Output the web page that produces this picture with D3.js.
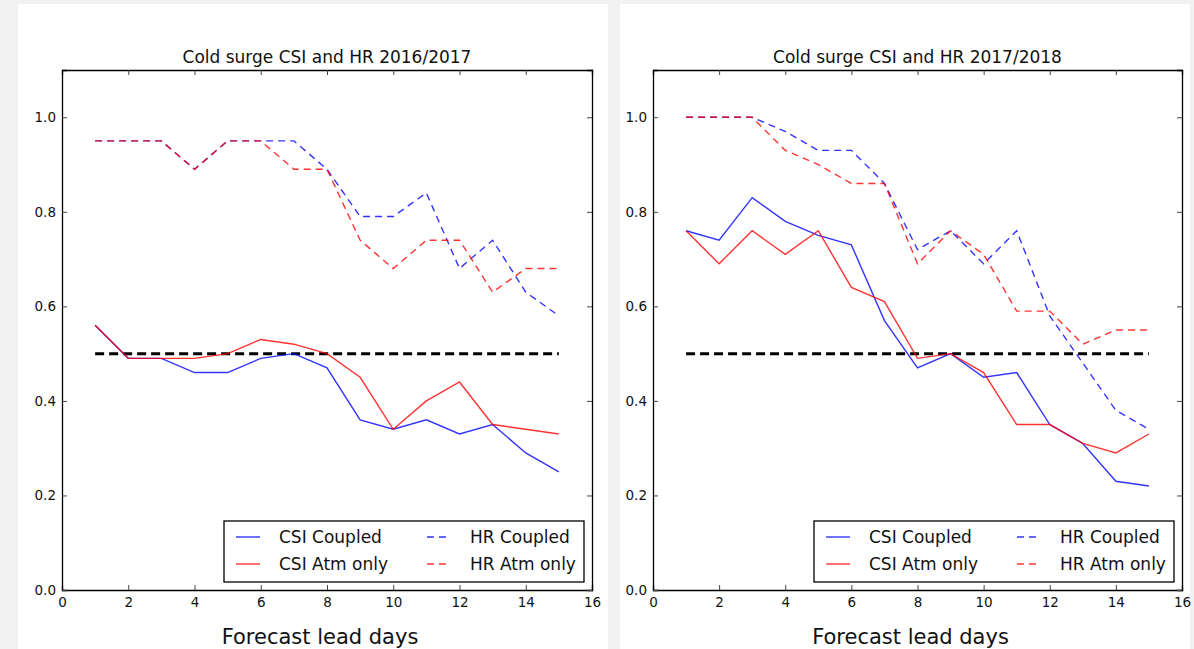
<!DOCTYPE html>
<html>
<head>
<meta charset="utf-8">
<script src="https://cdn.jsdelivr.net/npm/d3@7"></script>
<style>
  body { margin: 0; background: #f2f2f2; }
  svg { display: block; }
  text { font-family: "DejaVu Sans", sans-serif; fill: #111; }
</style>
</head>
<body>
<script>
var days = [1, 2, 3, 4, 5, 6, 7, 8, 9, 10, 11, 12, 13, 14, 15];

// 2016/2017 season
var csiCoupled1617 = [0.56, 0.49, 0.49, 0.46, 0.46, 0.49, 0.50, 0.47, 0.36, 0.34, 0.36, 0.33, 0.35, 0.29, 0.25];
var csiAtm1617     = [0.56, 0.49, 0.49, 0.49, 0.50, 0.53, 0.52, 0.50, 0.45, 0.34, 0.40, 0.44, 0.35, 0.34, 0.33];
var hrCoupled1617  = [0.95, 0.95, 0.95, 0.89, 0.95, 0.95, 0.95, 0.89, 0.79, 0.79, 0.84, 0.68, 0.74, 0.63, 0.58];
var hrAtm1617      = [0.95, 0.95, 0.95, 0.89, 0.95, 0.95, 0.89, 0.89, 0.74, 0.68, 0.74, 0.74, 0.63, 0.68, 0.68];

// 2017/2018 season
var csiCoupled1718 = [0.76, 0.74, 0.83, 0.78, 0.75, 0.73, 0.57, 0.47, 0.50, 0.45, 0.46, 0.35, 0.31, 0.23, 0.22];
var csiAtm1718     = [0.76, 0.69, 0.76, 0.71, 0.76, 0.64, 0.61, 0.49, 0.50, 0.46, 0.35, 0.35, 0.31, 0.29, 0.33];
var hrCoupled1718  = [1.00, 1.00, 1.00, 0.97, 0.93, 0.93, 0.86, 0.72, 0.76, 0.69, 0.76, 0.58, 0.48, 0.38, 0.34];
var hrAtm1718      = [1.00, 1.00, 1.00, 0.93, 0.90, 0.86, 0.86, 0.69, 0.76, 0.71, 0.59, 0.59, 0.52, 0.55, 0.55];

var threshold = 0.5;
var xTicks = [0, 2, 4, 6, 8, 10, 12, 14, 16];
var yTicks = [0.0, 0.2, 0.4, 0.6, 0.8, 1.0];
var legendNames = ["CSI Coupled", "CSI Atm only", "HR Coupled", "HR Atm only"];

var width = 1194, height = 649;

var svg = d3.select("body").append("svg")
  .attr("width", width)
  .attr("height", height);

// white panels on the grey page
svg.append("rect").attr("x", 18).attr("y", 4).attr("width", 590).attr("height", 645).attr("fill", "#fff");
svg.append("rect").attr("x", 620).attr("y", 4).attr("width", 570).attr("height", 645).attr("fill", "#fff");

var panels = [
  { left: 62, right: 592, title: "Cold surge CSI and HR 2016/2017",
    series: [csiCoupled1617, csiAtm1617, hrCoupled1617, hrAtm1617] },
  { left: 653, right: 1182, title: "Cold surge CSI and HR 2017/2018",
    series: [csiCoupled1718, csiAtm1718, hrCoupled1718, hrAtm1718] }
];

var styles = [
  { color: "#0000ff", dash: null },
  { color: "#ff0000", dash: null },
  { color: "#0000ff", dash: "7,5" },
  { color: "#ff0000", dash: "7,5" }
];

panels.forEach(function(p) {
  var top = 70, bottom = 590;
  var x = d3.scaleLinear().domain([0, 16]).range([p.left, p.right]);
  var y = d3.scaleLinear().domain([0, 1.1]).range([bottom, top]);

  var g = svg.append("g");

  var line = d3.line()
    .x(function(d, i) { return x(days[i]); })
    .y(function(d) { return y(d); });

  // threshold line
  g.append("path")
    .attr("d", line(days.map(function() { return threshold; })))
    .attr("fill", "none")
    .attr("stroke", "#000")
    .attr("stroke-width", 3)
    .attr("stroke-dasharray", "9,5");

  p.series.forEach(function(s, i) {
    g.append("path")
      .attr("d", line(s))
      .attr("fill", "none")
      .attr("stroke", styles[i].color)
      .attr("stroke-opacity", 0.8)
      .attr("stroke-width", 1.4)
      .attr("stroke-dasharray", styles[i].dash);
  });

  // axes with inward ticks on all sides
  g.append("g")
    .attr("transform", "translate(0," + bottom + ")")
    .call(d3.axisBottom(x).tickValues(xTicks).tickSize(-5).tickPadding(7).tickFormat(d3.format("d")));
  g.append("g")
    .attr("transform", "translate(0," + top + ")")
    .call(d3.axisTop(x).tickValues(xTicks).tickSize(-5).tickFormat(""));
  g.append("g")
    .attr("transform", "translate(" + p.left + ",0)")
    .call(d3.axisLeft(y).tickValues(yTicks).tickSize(-5).tickPadding(6).tickFormat(d3.format(".1f")));
  g.append("g")
    .attr("transform", "translate(" + p.right + ",0)")
    .call(d3.axisRight(y).tickValues(yTicks).tickSize(-5).tickFormat(""));

  g.selectAll(".domain").attr("stroke", "#000").attr("stroke-width", 1.3);
  g.selectAll(".tick line").attr("stroke", "#444");
  g.selectAll(".tick text")
    .attr("font-family", "DejaVu Sans, sans-serif")
    .attr("font-size", 13.5)
    .attr("fill", "#222");

  g.append("text")
    .attr("x", (p.left + p.right) / 2)
    .attr("y", 63)
    .attr("text-anchor", "middle")
    .attr("font-size", 17)
    .text(p.title);

  g.append("text")
    .attr("x", (p.left + p.right) / 2 - 7)
    .attr("y", 644)
    .attr("text-anchor", "middle")
    .attr("font-family", "Open Sans, sans-serif")
    .attr("font-size", 21)
    .text("Forecast lead days");

  // legend, lower right
  var lx = p.right - 368, ly = 521;
  var leg = g.append("g").attr("transform", "translate(" + lx + "," + ly + ")");
  leg.append("rect")
    .attr("width", 360).attr("height", 61)
    .attr("fill", "#fff").attr("stroke", "#000").attr("stroke-width", 1.3);
  legendNames.forEach(function(name, i) {
    var col = Math.floor(i / 2), row = i % 2;
    var ox = 12 + col * 191, oy = 16 + row * 27;
    leg.append("line")
      .attr("x1", ox).attr("x2", ox + 24)
      .attr("y1", oy).attr("y2", oy)
      .attr("stroke", styles[i].color)
      .attr("stroke-opacity", 0.8)
      .attr("stroke-width", 1.4)
      .attr("stroke-dasharray", styles[i].dash ? "7,5" : null);
    leg.append("text")
      .attr("x", ox + 43)
      .attr("y", oy)
      .attr("dy", "0.35em")
      .attr("font-size", 17)
      .text(name);
  });
});
</script>
</body>
</html>
